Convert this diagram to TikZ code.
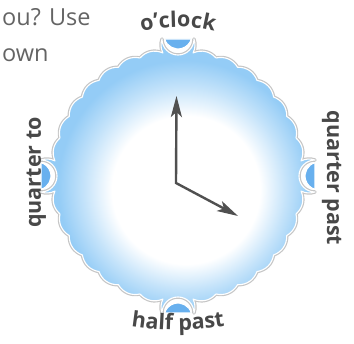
\documentclass[tikz,border=0pt]{standalone}
\usepackage{fontspec}
\setmainfont{Open Sans}
\usetikzlibrary{decorations.text,arrows.meta}
\definecolor{cblue}{RGB}{148,204,246}
\definecolor{nblue}{RGB}{104,176,238}
\definecolor{handc}{RGB}{80,80,80}
\definecolor{lblc}{RGB}{72,72,72}
\definecolor{txtc}{RGB}{100,100,100}
\pgfdeclareradialshading{clockshade}{\pgfpoint{2bp}{-3.5bp}}{color(0bp)=(white); color(13.5bp)=(white); color(18.5bp)=(cblue!55); color(23bp)=(cblue); color(50bp)=(cblue)}
\newcommand\lblf{\bfseries\fontsize{21.5}{21.5}\selectfont}
\def\Rc{124}
\def\dl{7}
\def\stp{10.857}
\def\clk{({90+\dl}:\Rc)
  \foreach \q in {0,1,2,3} {
    to[bend left=20] ({96.66-90*\q}:137.93)
    arc[start angle={180-90*\q}, end angle={360-90*\q}, radius=16]
    to[bend left=20] ({90-90*\q-\dl}:\Rc)
    to[bend left=35] ({90-90*\q-\dl-1*\stp}:\Rc)
    to[bend left=35] ({90-90*\q-\dl-2*\stp}:\Rc)
    to[bend left=35] ({90-90*\q-\dl-3*\stp}:\Rc)
    to[bend left=35] ({90-90*\q-\dl-4*\stp}:\Rc)
    to[bend left=35] ({90-90*\q-\dl-5*\stp}:\Rc)
    to[bend left=35] ({90-90*\q-\dl-6*\stp}:\Rc)
    to[bend left=35] ({90-90*\q-\dl-7*\stp}:\Rc)
  } -- cycle}
\tikzset{
  hand/.style={draw=handc, line width=2.4pt, line join=miter},
  handtip/.tip={Stealth[length=21pt,width=11pt,inset=5pt]},
  sidelabel/.style={font=\lblf, text=lblc, inner sep=0pt, anchor=base},
  toptext/.style={font=\fontsize{23.5}{23.5}\selectfont, text=txtc, inner sep=0pt, anchor=base west}
}
\begin{document}
\begin{tikzpicture}[x=1pt,y=1pt]
\useasboundingbox (-178,-168) rectangle (176,176);
% top-left text
\node[toptext] (t1) at (-176,150) {ou? Use};
\node[toptext] (t2) at (-176,114) {own};
% clock face
\draw[gray!45, line width=3.5pt, line join=round] \clk;
\shade[shading=clockshade] \clk;
\draw[white, line width=1.1pt, line join=round] \clk;
% notches
\foreach \q in {0,1,2,3} {
  \begin{scope}[rotate=-90*\q]
    \draw[white, line width=1.2pt, fill=nblue] (-13.4,137) arc[start angle=196.6, end angle=343.4, radius=14] -- cycle;
  \end{scope}
}
% hands
\coordinate (h) at (-1.5,80);
\coordinate (c) at (-2,-7);
\coordinate (m) at (60,-40);
\draw[hand, handtip-handtip] (h) -- (c) -- (m);
% labels
\path[decorate, decoration={text along path, text={|\lblf\color{lblc}|o’clock}, text align=center}]
  (120:149) arc[start angle=120, end angle=60, radius=149];
\path[decorate, decoration={text along path, text={|\lblf\color{lblc}|half past}, text align=center}]
  (0,146) ++(252:300) arc[start angle=252, end angle=288, radius=300];
\node[sidelabel, rotate=-90] (qp) at (149,-2) {quarter past};
\node[sidelabel, rotate=90] (qt) at (-137,3.5) {quarter to};
\end{tikzpicture}
\end{document}
